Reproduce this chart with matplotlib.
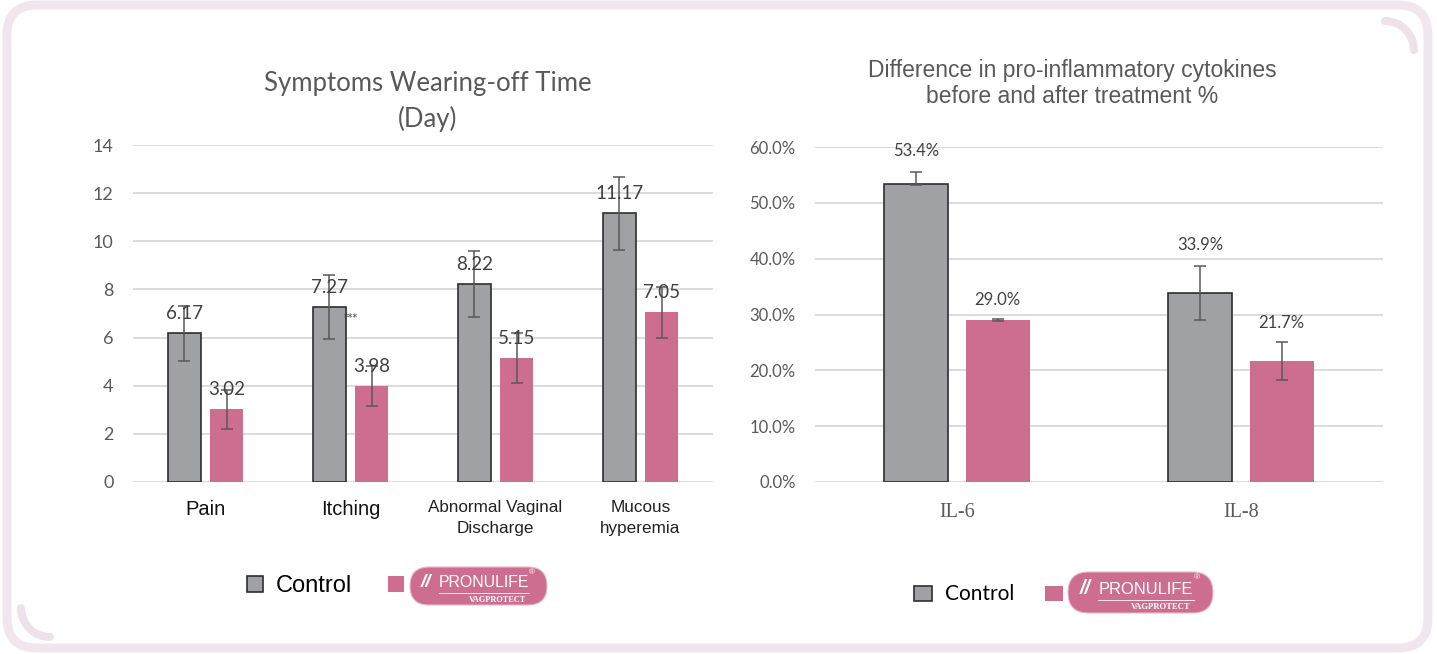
import numpy as np
import matplotlib
matplotlib.use("Agg")
import matplotlib.pyplot as plt
from matplotlib.patches import FancyBboxPatch, Arc, Patch
from matplotlib.transforms import Affine2D
from matplotlib.ticker import FuncFormatter

# ---------------- data ----------------
symptom_labels = ["Pain", "Itching", "Abnormal Vaginal\nDischarge", "Mucous\nhyperemia"]
symptom_control = [6.17, 7.27, 8.22, 11.17]
symptom_pronulife = [3.02, 3.98, 5.15, 7.05]
symptom_control_err = [1.15, 1.35, 1.38, 1.52]
symptom_pronulife_err = [0.81, 0.84, 1.04, 1.07]

cytokine_labels = ["IL-6", "IL-8"]
cytokine_control = [53.4, 33.9]
cytokine_pronulife = [29.0, 21.7]
cytokine_control_err_low = [0.15, 4.8]
cytokine_control_err_high = [2.1, 4.8]
cytokine_pronulife_err = [0.15, 3.45]

left_title = "Symptoms Wearing-off Time\n(Day)"
right_title = "Difference in pro-inflammatory cytokines\nbefore and after treatment %"
legend_labels = ["Control", ""]

# ---------------- style ----------------
GRAY = "#a0a1a5"
GRAY_EDGE = "#2e2e2e"
PINK = "#cd6e90"
TXT = "#595959"
LBL = "#404040"
GRID = "#d9d9d9"
FRAME = "#f2e6ee"

W, H = 1437, 654
fig = plt.figure(figsize=(W / 100, H / 100), dpi=100)
fig.patch.set_facecolor("white")
px = Affine2D().scale(1 / W, 1 / H) + fig.transFigure  # pixel (y-up) -> figure


def up(y):
    return H - y


# decorative frame
fig.add_artist(FancyBboxPatch((7, up(648)), 1421, 643,
                              boxstyle="round,pad=0,rounding_size=30",
                              fill=False, ec=FRAME, lw=9 * 0.72, transform=px))
a1 = Arc((1385, up(50)), 58, 58, theta1=0, theta2=90, lw=8 * 0.72,
         color="#efe1ea", transform=px, capstyle="round")
a2 = Arc((50, up(608)), 58, 58, theta1=180, theta2=270, lw=8 * 0.72,
         color="#efe1ea", transform=px, capstyle="round")
fig.add_artist(a1)
fig.add_artist(a2)

# ---------------- left chart ----------------
axL = fig.add_axes([133 / W, 1 - 482 / H, 580 / W, 337 / H])
x = np.arange(len(symptom_labels))
bw, off = 0.228, 0.145
axL.bar(x - off, symptom_control, bw, color=GRAY, edgecolor=GRAY_EDGE, lw=1.2, zorder=2)
axL.bar(x + off, symptom_pronulife, bw, color=PINK, edgecolor="none", zorder=2)
axL.errorbar(x - off, symptom_control, yerr=symptom_control_err, fmt="none",
             ecolor=TXT, elinewidth=1.1, capsize=4, capthick=1.1, zorder=3)
axL.errorbar(x + off, symptom_pronulife, yerr=symptom_pronulife_err, fmt="none",
             ecolor=TXT, elinewidth=1.1, capsize=4, capthick=1.1, zorder=3)
for xi, v in zip(x - off, symptom_control):
    axL.annotate(f"{v:.2f}", (xi, v), xytext=(0, 20), textcoords="offset pixels",
                 ha="center", va="center", fontsize=13.5, color=LBL, family="Lato", zorder=4)
for xi, v in zip(x + off, symptom_pronulife):
    axL.annotate(f"{v:.2f}", (xi, v), xytext=(0, 20), textcoords="offset pixels",
                 ha="center", va="center", fontsize=13.5, color=LBL, family="Lato", zorder=4)
axL.text(1.0, 6.8, "***", fontsize=7, color=LBL, ha="center", va="center")

axL.set_xlim(-0.5, len(symptom_labels) - 0.5)
axL.set_ylim(0, 14)
axL.set_yticks(range(0, 15, 2))
axL.grid(axis="y", color=GRID, lw=1.3)
axL.set_axisbelow(True)
for s in axL.spines.values():
    s.set_visible(False)
axL.tick_params(axis="both", length=0)
axL.tick_params(axis="y", pad=14, labelsize=13, labelcolor=TXT)
for t in axL.get_yticklabels():
    t.set_family("Lato")
axL.set_xticks(x)
axL.set_xticklabels(symptom_labels)
axL.tick_params(axis="x", pad=13)
for t, fs in zip(axL.get_xticklabels(), [14.5, 14.5, 12.3, 12.3]):
    t.set_fontsize(fs)
    t.set_family("Liberation Sans")
    t.set_linespacing(1.5)
    t.set_color("#111111" if fs > 13 else "#222222")

fig.text(428 / W, 1 - 101.5 / H, left_title, ha="center", va="center",
         fontsize=18.5, color=TXT, family="Lato", linespacing=1.45)

legL = axL.legend([Patch(fc=GRAY, ec=GRAY_EDGE, lw=1.2), Patch(fc=PINK, ec="none")],
                  legend_labels, loc="center left",
                  bbox_to_anchor=(247 / W, 1 - 586.5 / H), bbox_transform=fig.transFigure,
                  ncol=2, frameon=False, prop={"family": "Liberation Sans", "size": 17},
                  handlelength=0.68, handleheight=0.66, handletextpad=0.55,
                  columnspacing=1.5, borderpad=0, borderaxespad=0)

# ---------------- right chart ----------------
axR = fig.add_axes([815 / W, 1 - 482 / H, 568 / W, 335 / H])
xr = np.arange(len(cytokine_labels))
bw2, off2 = 0.225, 0.143
axR.bar(xr - off2, cytokine_control, bw2, color=GRAY, edgecolor=GRAY_EDGE, lw=1.2, zorder=2)
axR.bar(xr + off2, cytokine_pronulife, bw2, color=PINK, edgecolor="none", zorder=2)
axR.errorbar(xr - off2, cytokine_control,
             yerr=[cytokine_control_err_low, cytokine_control_err_high], fmt="none",
             ecolor=TXT, elinewidth=1.1, capsize=4, capthick=1.1, zorder=3)
axR.errorbar(xr + off2, cytokine_pronulife, yerr=cytokine_pronulife_err, fmt="none",
             ecolor=TXT, elinewidth=1.1, capsize=4, capthick=1.1, zorder=3)
for xi, v, e in zip(xr - off2, cytokine_control, cytokine_control_err_high):
    axR.annotate(f"{v:.1f}%", (xi, v + e), xytext=(0, 21), textcoords="offset pixels",
                 ha="center", va="center", fontsize=12, color=LBL, family="Lato", zorder=4)
for xi, v, e in zip(xr + off2, cytokine_pronulife, cytokine_pronulife_err):
    axR.annotate(f"{v:.1f}%", (xi, v + e), xytext=(0, 19), textcoords="offset pixels",
                 ha="center", va="center", fontsize=12, color=LBL, family="Lato", zorder=4)

axR.set_xlim(-0.5, len(cytokine_labels) - 0.5)
axR.set_ylim(0, 60)
axR.set_yticks(np.arange(0, 61, 10))
axR.yaxis.set_major_formatter(FuncFormatter(lambda v, _: f"{v:.1f}%"))
axR.grid(axis="y", color=GRID, lw=1.3)
axR.set_axisbelow(True)
for s in axR.spines.values():
    s.set_visible(False)
axR.tick_params(axis="both", length=0)
axR.tick_params(axis="y", pad=14, labelsize=12, labelcolor=TXT)
for t in axR.get_yticklabels():
    t.set_family("Lato")
axR.set_xticks(xr)
axR.set_xticklabels(cytokine_labels)
axR.tick_params(axis="x", pad=15, labelsize=14.5, labelcolor=TXT)
for t in axR.get_xticklabels():
    t.set_family("Liberation Serif")

fig.text(1072 / W, 1 - 83.5 / H, right_title, ha="center", va="center",
         fontsize=16.5, color=TXT, family="Liberation Sans", linespacing=1.2)

legR = axR.legend([Patch(fc=GRAY, ec=GRAY_EDGE, lw=1.2), Patch(fc=PINK, ec="none")],
                  legend_labels, loc="center left",
                  bbox_to_anchor=(914 / W, 1 - 594.5 / H), bbox_transform=fig.transFigure,
                  ncol=2, frameon=False, prop={"family": "Lato", "size": 15},
                  handlelength=0.85, handleheight=0.75, handletextpad=0.62,
                  columnspacing=1.5, borderpad=0, borderaxespad=0)


# ---------------- brand pills in legends ----------------
def draw_pill(x0, y0, x1, y1, fs):
    w, h = x1 - x0, y1 - y0
    fig.add_artist(FancyBboxPatch((x0, up(y1)), w, h,
                                  boxstyle=f"round,pad=0,rounding_size={h / 2}",
                                  fc=PINK, ec="#e9b8c9", lw=0.8, transform=px))

    def fx(r):
        return (x0 + r * w) / W

    def fy(r):
        return 1 - (y0 + r * h) / H

    fig.text(fx(0.12), fy(0.40), "//", fontsize=fs * 1.2, color="white",
             fontweight="bold", style="italic", ha="center", va="center",
             family="Liberation Sans")
    fig.text(fx(0.54), fy(0.42), "PRONULIFE", fontsize=fs, color="white",
             ha="center", va="center", family="Liberation Sans")
    fig.text(fx(0.89), fy(0.15), "®", fontsize=fs * 0.5, color="white",
             ha="center", va="center", family="Liberation Sans")
    fig.add_artist(plt.Line2D([fx(0.21), fx(0.87)], [fy(0.68), fy(0.68)],
                              color="white", lw=0.6, transform=fig.transFigure))
    fig.text(fx(0.64), fy(0.86), "VAGPROTECT", fontsize=fs * 0.52, color="white",
             fontweight="bold", ha="center", va="center", family="Liberation Serif")


draw_pill(410, 567, 547, 605, 11.4)
draw_pill(1068, 572, 1213, 613, 11.9)

fig.savefig("out.png", dpi=100, facecolor="white")
